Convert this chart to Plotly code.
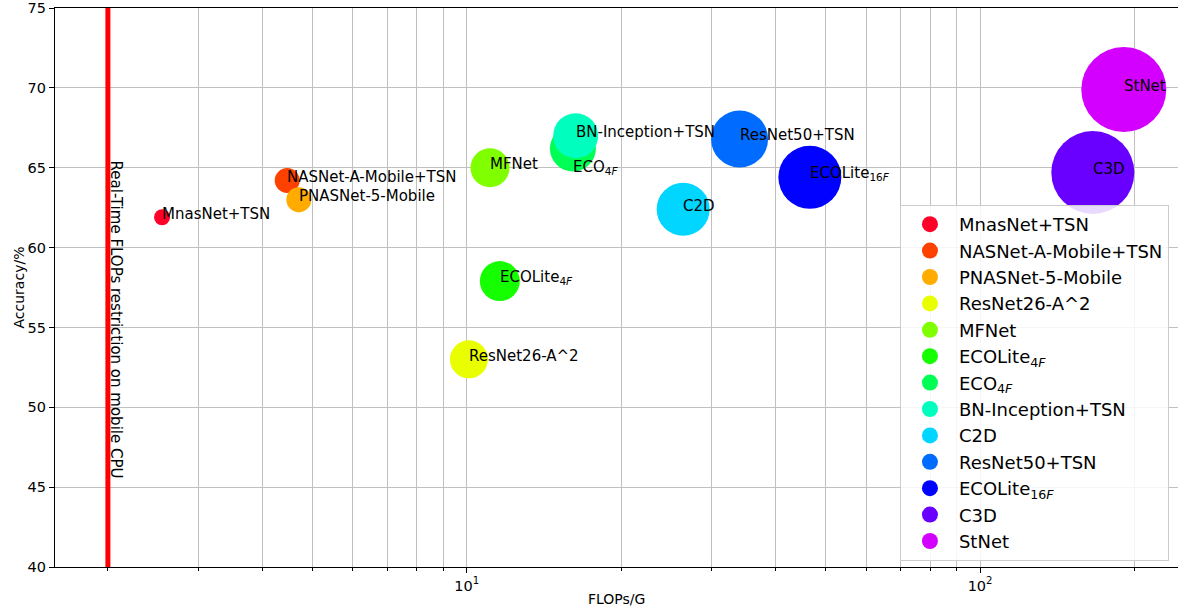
import numpy as np
import plotly.graph_objects as go

# ---- data ----
models = ["MnasNet+TSN", "NASNet-A-Mobile+TSN", "PNASNet-5-Mobile", "ResNet26-A^2",
          "MFNet", "ECOLite<sub>4<i>F</i></sub>", "ECO<sub>4<i>F</i></sub>",
          "BN-Inception+TSN", "C2D", "ResNet50+TSN", "ECOLite<sub>16<i>F</i></sub>",
          "C3D", "StNet"]
flops = [2.55, 4.47, 4.71, 10.1, 11.1, 11.6, 16.1, 16.3, 26.4, 34.0, 46.6, 165.8, 190.5]
accuracy = [61.9, 64.2, 63.0, 53.0, 65.0, 57.9, 66.2, 67.0, 62.4, 66.8, 64.4, 64.7, 69.9]
bubble = [16, 25, 25, 38, 39, 40, 46, 45, 53, 57, 63, 83, 85]
realtime_limit = 2.0
x_major = [10, 100]
x_major_text = ["10<sup>1</sup>", "10<sup>2</sup>"]
x_minor = [2, 3, 4, 5, 6, 7, 8, 9, 20, 30, 40, 50, 60, 70, 80, 90, 200]
y_ticks = [40, 45, 50, 55, 60, 65, 70, 75]

colors = ["#ff0029", "#ff4100", "#ffab00", "#e9ff00", "#7fff00", "#15ff00", "#00ff54",
          "#00ffbe", "#00d6ff", "#006bff", "#0001ff", "#6900ff", "#d400ff"]
# label placed lower than its bubble (accuracy units), as in the original
label_offset = {"ECO<sub>4<i>F</i></sub>": -1.45}

FONT = "DejaVu Sans"
fig = go.Figure()

# real-time restriction line
fig.add_trace(go.Scatter(x=[realtime_limit, realtime_limit], y=[40, 75], mode="lines",
                         line=dict(color="#ff0000", width=5), showlegend=False,
                         hoverinfo="skip"))

for name, fx, acc, s, c in zip(models, flops, accuracy, bubble, colors):
    fig.add_trace(go.Scatter(x=[fx], y=[acc], mode="markers", name=name,
                             marker=dict(size=s, color=c, line=dict(width=0)),
                             hoverinfo="skip"))
    fig.add_annotation(x=np.log10(fx), y=acc + label_offset.get(name, 0.0), text=name,
                       showarrow=False, xanchor="left", yanchor="bottom",
                       xshift=-2, yshift=-7.5,
                       font=dict(family=FONT, size=15, color="black"))

fig.add_annotation(x=np.log10(realtime_limit), y=55.5,
                   text="Real-Time FLOPs restriction on mobile CPU",
                   textangle=90, showarrow=False, xanchor="center", yanchor="middle",
                   xshift=8, font=dict(family=FONT, size=15, color="black"))

# axis titles
fig.add_annotation(xref="paper", yref="paper", x=0.5, y=0, yshift=-32,
                   text="FLOPs/G", showarrow=False, xanchor="center", yanchor="middle",
                   font=dict(family=FONT, size=14, color="black"))
fig.add_annotation(xref="paper", yref="paper", x=0, y=0.5, xshift=-37,
                   text="Accuracy/%", textangle=-90, showarrow=False,
                   xanchor="center", yanchor="middle",
                   font=dict(family=FONT, size=14, color="black"))

fig.update_xaxes(type="log", range=[0.198, 2.3855], automargin=False,
                 tickvals=x_major, ticktext=x_major_text, ticklabeloverflow="allow",
                 ticks="outside", ticklen=5, tickcolor="black",
                 showline=True, linecolor="black", linewidth=1.2, mirror=True,
                 showgrid=True, gridcolor="#c0c0c0", gridwidth=1,
                 minor=dict(tickvals=x_minor, ticks="outside", ticklen=3,
                            tickcolor="black", showgrid=True, gridcolor="#c0c0c0",
                            gridwidth=1),
                 zeroline=False,
                 tickfont=dict(family=FONT, size=14.5, color="black"))
fig.update_yaxes(range=[40, 75.0001], tickvals=y_ticks, automargin=False,
                 ticklabeloverflow="allow",
                 ticks="outside", ticklen=5, tickcolor="black",
                 showline=True, linecolor="black", linewidth=1.2, mirror=False,
                 showgrid=True, gridcolor="#c0c0c0", gridwidth=1, zeroline=False,
                 tickfont=dict(family=FONT, size=14.5, color="black"))

fig.update_layout(
    width=1178, height=609,
    margin=dict(l=55, r=0, t=8, b=42),
    plot_bgcolor="white", paper_bgcolor="white",
    font=dict(family=FONT, color="black"),
    legend=dict(x=0.7524, y=0.6476, xanchor="left", yanchor="top",
                bgcolor="rgba(255,255,255,0.85)", bordercolor="#cccccc", borderwidth=1,
                font=dict(family=FONT, size=18, color="black"),
                itemsizing="trace", itemwidth=48),
    hovermode=False,
)

fig.write_html("out.html", config={"displayModeBar": False},
               post_script="document.body.style.margin='0px';"
                           "document.body.style.overflow='hidden';")
